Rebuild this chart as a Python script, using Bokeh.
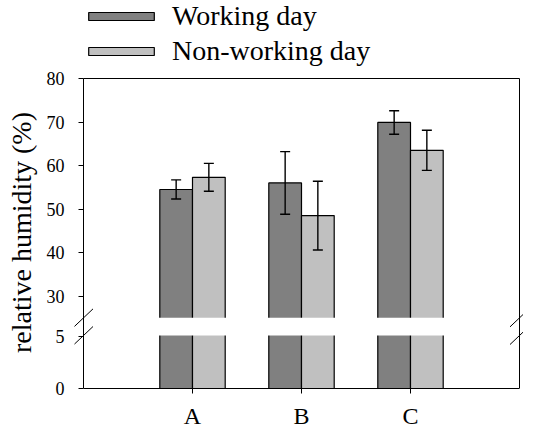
from bokeh.plotting import figure
from bokeh.layouts import column
from bokeh.models import (Range1d, ColumnDataSource, Whisker, TeeHead,
                          Legend, LegendItem, FixedTicker, CustomJSTickFormatter, Arrow)
from bokeh.embed import file_html
from bokeh.resources import INLINE

# ---------------- data ----------------
sites = ["A", "B", "C"]
series_names = ["Working day", "Non-working day"]
working_mean = [54.5, 56.0, 69.9]
working_err = [2.2, 7.2, 2.7]
nonworking_mean = [57.3, 48.5, 63.5]
nonworking_err = [3.2, 7.9, 4.6]
upper_ticks = [30, 40, 50, 60, 70, 80]
lower_ticks = [0, 5]
upper_segment = (25, 80)     # visible value span above the break
lower_segment = (0, 5.1)     # visible value span below the break

# ---------------- layout ----------------
W = 523
LH = 68                       # legend strip height
H = 363                       # main plot height
BL, BR, BT, BB = 74, 0, 8, 43
FW, FH = W - BL - BR, H - BT - BB
PAD_L, PAD_R, Y_TOP = 9, 4, 2  # frame room around the value area (px)
DW = FW - PAD_L - PAD_R
DH = FH - Y_TOP
f_low, f_gap = 54 / 316, 18 / 316
f_up = 1 - f_low - f_gap

px_u = (upper_segment[1] - upper_segment[0]) / (f_up * DH)   # units per pixel
px_l = (lower_segment[1] - lower_segment[0]) / (f_low * DH)
start_u = upper_segment[1] - DH * px_u
end_u = upper_segment[1] + Y_TOP * px_u
start_l = lower_segment[0]
end_l = start_l + FH * px_l
span_u, span_l = end_u - start_u, end_l - start_l


def low_to_up(v):
    return start_u + (v - start_l) * span_u / span_l


def up_to_low(u):
    return start_l + (u - start_u) * span_l / span_u


x_pos = list(range(1, len(sites) + 1))
x_lo, x_hi = 0, len(sites) + 1
px_x = (x_hi - x_lo) / DW

DARK, LIGHT = "#808080", "#c0c0c0"
FONT = "Liberation Serif"
BW = 0.3

src = ColumnDataSource(dict(
    site=sites,
    xw=[x - BW / 2 for x in x_pos],
    xn=[x + BW / 2 for x in x_pos],
    w=working_mean,
    n=nonworking_mean,
    w_hi=[m + e for m, e in zip(working_mean, working_err)],
    w_lo=[m - e for m, e in zip(working_mean, working_err)],
    n_hi=[m + e for m, e in zip(nonworking_mean, nonworking_err)],
    n_lo=[m - e for m, e in zip(nonworking_mean, nonworking_err)],
))

p = figure(x_range=Range1d(x_lo - PAD_L * px_x, x_hi + PAD_R * px_x),
           y_range=Range1d(start_u, end_u),
           width=W, height=H, output_backend="svg", toolbar_location=None,
           min_border_left=BL, min_border_right=BR, min_border_top=BT, min_border_bottom=BB)
p.extra_y_ranges = {"low": Range1d(start_l, end_l)}

p.xgrid.visible = False
p.ygrid.visible = False
p.outline_line_color = None
p.background_fill_color = "white"
p.border_fill_color = "white"

d_u = 2 * px_u
d_l = 2 * px_l
bar_style = dict(width=BW, source=src, line_color="black", line_width=1.2)

r_w_up = p.vbar(x="xw", top="w", bottom=upper_segment[0] - d_u, fill_color=DARK, **bar_style)
r_n_up = p.vbar(x="xn", top="n", bottom=upper_segment[0] - d_u, fill_color=LIGHT, **bar_style)
p.vbar(x="xw", top=lower_segment[1] + d_l, bottom=lower_segment[0], fill_color=DARK,
       y_range_name="low", **bar_style)
p.vbar(x="xn", top=lower_segment[1] + d_l, bottom=lower_segment[0], fill_color=LIGHT,
       y_range_name="low", **bar_style)

# white gap of the broken axis
p.quad(left=x_lo - 1, right=x_hi + 1, bottom=lower_segment[1],
       top=up_to_low(upper_segment[0]), y_range_name="low",
       fill_color="white", line_color=None)

for col in ("w", "n"):
    p.add_layout(Whisker(source=src, base="x" + col, upper=col + "_hi", lower=col + "_lo",
                         level="annotation", line_color="black", line_width=1.4,
                         upper_head=TeeHead(size=10, line_color="black", line_width=1.4),
                         lower_head=TeeHead(size=10, line_color="black", line_width=1.4)))

# frame of the value area
top_v = upper_segment[1]
for xs, xe, ys, ye in ((x_lo, x_hi, top_v, top_v),
                       (x_lo, x_lo, start_u, top_v),
                       (x_hi, x_hi, start_u, top_v)):
    p.add_layout(Arrow(end=None, x_start=xs, x_end=xe, y_start=ys, y_end=ye,
                       line_color="black", line_width=1))

# break marks on both edges
mdx = 9.5 * px_x
for xe in (x_lo, x_hi):
    p.add_layout(Arrow(end=None, x_start=xe - mdx, x_end=xe + mdx,
                       y_start=upper_segment[0] - 9 * px_u, y_end=upper_segment[0] + 9 * px_u,
                       line_color="black", line_width=1))
    p.add_layout(Arrow(end=None, x_start=xe - mdx, x_end=xe + mdx,
                       y_start=lower_segment[1] - 9 * px_l, y_end=lower_segment[1] + 9 * px_l,
                       y_range_name="low", line_color="black", line_width=1))

# axes
yax = p.yaxis[0]
yax.ticker = FixedTicker(ticks=[low_to_up(v) for v in lower_ticks] + upper_ticks)
yax.formatter = CustomJSTickFormatter(
    args=dict(su=start_u, sl=start_l, k=span_l / span_u, cut=upper_segment[0]),
    code="""
    if (tick >= cut - 1e-6) { return tick.toFixed(0); }
    return Math.round(sl + (tick - su) * k).toString();
    """)
yax.axis_label = "relative humidity (%)"
yax.axis_label_text_font = FONT
yax.axis_label_text_font_style = "normal"
yax.axis_label_text_font_size = "28px"
yax.axis_label_text_color = "black"
yax.axis_label_standoff = 7
yax.major_label_text_font = FONT
yax.major_label_text_font_size = "18px"
yax.major_label_text_color = "black"
yax.major_label_standoff = 10
yax.major_tick_out = -(PAD_L - 5)
yax.major_tick_in = PAD_L
yax.major_tick_line_color = "black"
yax.minor_tick_line_color = None
yax.axis_line_color = None

xax = p.xaxis[0]
xax.ticker = FixedTicker(ticks=x_pos)
xax.major_label_overrides = {x: s for x, s in zip(x_pos, sites)}
xax.bounds = (x_lo, x_hi)
xax.major_label_text_font = FONT
xax.major_label_text_font_size = "24px"
xax.major_label_text_color = "black"
xax.major_label_standoff = 9
xax.major_tick_out = 5
xax.major_tick_in = 0
xax.minor_tick_line_color = None
xax.major_tick_line_color = "black"
xax.axis_line_color = "black"

# ---------------- legend strip ----------------
lf = figure(width=W, height=LH, output_backend="svg", toolbar_location=None,
            x_range=Range1d(0, 1), y_range=Range1d(0, 1),
            x_axis_type=None, y_axis_type=None, min_border=0)
lf.outline_line_color = None
lf.background_fill_color = "white"
lf.border_fill_color = "white"
# key glyphs only: their single bar lies outside the strip's visible range
key_w = lf.vbar(x=[-5], top=[-5], bottom=-6, width=BW, fill_color=DARK,
                line_color="black", line_width=1.2)
key_n = lf.vbar(x=[-5], top=[-5], bottom=-6, width=BW, fill_color=LIGHT,
                line_color="black", line_width=1.2)
LEG_H = 65
legend = Legend(items=[LegendItem(label=series_names[0], renderers=[key_w]),
                       LegendItem(label=series_names[1], renderers=[key_n])],
                location=(80 - BL, LH - LEG_H - 2), orientation="vertical",
                glyph_width=82, glyph_height=10, label_height=10, label_standoff=10,
                spacing=3, padding=0, margin=0, border_line_color=None,
                background_fill_alpha=0, label_text_font=FONT, label_text_font_size="28px",
                label_text_color="black")
lf.add_layout(legend)

page = column(lf, p, spacing=0)
open("out.html", "w").write(file_html(page, INLINE))
